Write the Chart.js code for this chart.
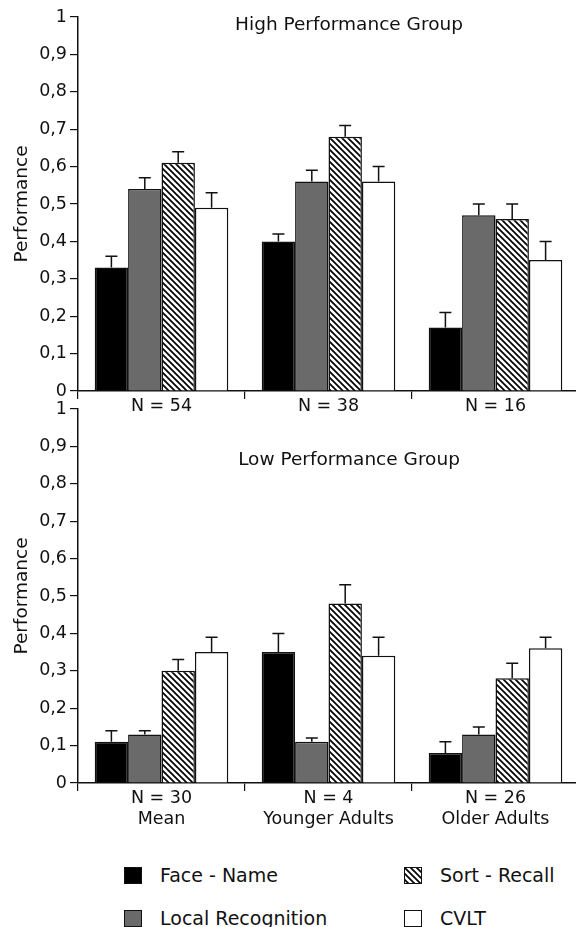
<!DOCTYPE html>
<html>
<head>
<meta charset="utf-8">
<script src="https://cdn.jsdelivr.net/npm/chart.js@4"></script>
<style>
  html, body { margin: 0; padding: 0; background: #fff; overflow: hidden; }
  body { width: 576px; height: 927px; position: relative; font-family: "DejaVu Sans", sans-serif; }
  .panel { position: absolute; left: 0; }
  #topWrap { top: 0; width: 582px; height: 420px; }
  #bottomWrap { top: 380px; width: 582px; height: 460px; }
  .legend-item { position: absolute; display: flex; align-items: center; font-size: 19px; color: #111; }
  .swatch { width: 18px; height: 17px; box-sizing: border-box; border: 1.5px solid #111; margin-right: 18px; }
</style>
</head>
<body>
<div id="topWrap" class="panel"><canvas id="highChart" width="582" height="420"></canvas></div>
<div id="bottomWrap" class="panel"><canvas id="lowChart" width="582" height="460"></canvas></div>

<div class="legend-item" style="left:124px; top:864px;"><span class="swatch" style="background:#000"></span>Face - Name</div>
<div class="legend-item" style="left:124px; top:907px;"><span class="swatch" style="background:#6a6a6a"></span>Local Recognition</div>
<div class="legend-item" style="left:404px; top:864px;"><span class="swatch" id="hatchSwatch"></span>Sort - Recall</div>
<div class="legend-item" style="left:404px; top:907px;"><span class="swatch" style="background:#fff"></span>CVLT</div>

<script>
// ---- data ----
const seriesNames = ['Face - Name', 'Local Recognition', 'Sort - Recall', 'CVLT'];
const highLabels = ['N = 54', 'N = 38', 'N = 16'];
const lowLabels = [['N = 30', 'Mean'], ['N = 4', 'Younger Adults'], ['N = 26', 'Older Adults']];
const yTickLabels = ['0', '0,1', '0,2', '0,3', '0,4', '0,5', '0,6', '0,7', '0,8', '0,9', '1'];

// High Performance Group: means and standard errors
const highFaceName = [0.33, 0.40, 0.17];
const highLocalRec = [0.54, 0.56, 0.47];
const highSortRecall = [0.61, 0.68, 0.46];
const highCVLT = [0.49, 0.56, 0.35];
const highFaceNameErr = [0.03, 0.02, 0.04];
const highLocalRecErr = [0.03, 0.03, 0.03];
const highSortRecallErr = [0.03, 0.03, 0.04];
const highCVLTErr = [0.04, 0.04, 0.05];

// Low Performance Group
const lowFaceName = [0.11, 0.35, 0.08];
const lowLocalRec = [0.13, 0.11, 0.13];
const lowSortRecall = [0.30, 0.48, 0.28];
const lowCVLT = [0.35, 0.34, 0.36];
const lowFaceNameErr = [0.03, 0.05, 0.03];
const lowLocalRecErr = [0.01, 0.01, 0.02];
const lowSortRecallErr = [0.03, 0.05, 0.04];
const lowCVLTErr = [0.04, 0.05, 0.03];

// ---- styling helpers ----
function makeHatch() {
  const s = 6;
  const c = document.createElement('canvas');
  c.width = s; c.height = s;
  const g = c.getContext('2d');
  g.fillStyle = '#fff';
  g.fillRect(0, 0, s, s);
  g.strokeStyle = '#000';
  g.lineWidth = 1.7;
  g.beginPath();
  g.moveTo(-1, -1); g.lineTo(s + 1, s + 1);
  g.moveTo(-1, s - 1); g.lineTo(1, s + 1);
  g.moveTo(s - 1, -1); g.lineTo(s + 1, 1);
  g.stroke();
  return c;
}
const hatchTile = makeHatch();
const hatch = document.createElement('canvas').getContext('2d').createPattern(hatchTile, 'repeat');
document.getElementById('hatchSwatch').style.backgroundImage = 'url(' + hatchTile.toDataURL() + ')';

const fills = ['#000', '#6a6a6a', hatch, '#fff'];
const tickFont = { family: 'DejaVu Sans', size: 17.5 };
const titleFont = { family: 'DejaVu Sans', size: 18.5 };

// error bars drawn above each bar
const errorBarPlugin = {
  id: 'errorBars',
  afterDatasetsDraw(chart) {
    const ctx = chart.ctx;
    const y = chart.scales.y;
    ctx.save();
    ctx.strokeStyle = '#111';
    ctx.lineWidth = 1.5;
    chart.data.datasets.forEach((ds, di) => {
      const meta = chart.getDatasetMeta(di);
      meta.data.forEach((bar, i) => {
        const top = y.getPixelForValue(ds.data[i] + ds.errors[i]);
        ctx.beginPath();
        ctx.moveTo(bar.x, bar.y);
        ctx.lineTo(bar.x, top);
        ctx.moveTo(bar.x - 6, top);
        ctx.lineTo(bar.x + 6, top);
        ctx.stroke();
      });
    });
    ctx.restore();
  }
};

// group title inside the plot area
const panelTitlePlugin = {
  id: 'panelTitle',
  afterDraw(chart, args, opts) {
    const ctx = chart.ctx;
    ctx.save();
    ctx.font = '18.5px "DejaVu Sans"';
    ctx.fillStyle = '#111';
    ctx.textAlign = 'center';
    ctx.textBaseline = 'middle';
    ctx.fillText(opts.text, opts.x, opts.y);
    ctx.restore();
  }
};

function buildChart(id, labels, values, errors, title, titleY, padTop, areaBottom, height) {
  return new Chart(document.getElementById(id), {
    type: 'bar',
    data: {
      labels: labels,
      datasets: seriesNames.map((name, k) => ({
        label: name,
        data: values[k],
        errors: errors[k],
        backgroundColor: fills[k],
        borderColor: '#111',
        borderWidth: 1.5,
        categoryPercentage: 0.8,
        barPercentage: 1.0
      }))
    },
    options: {
      responsive: false,
      animation: false,
      layout: { padding: { top: padTop, right: 3, left: 0, bottom: 0 } },
      plugins: {
        legend: { display: false },
        tooltip: { enabled: false },
        panelTitle: { text: title, x: 349, y: titleY }
      },
      scales: {
        x: {
          grid: { display: true, offset: true, drawOnChartArea: false, drawTicks: true, tickLength: 8, color: '#111', lineWidth: 1.2 },
          border: { display: true, color: '#111', width: 1.5 },
          ticks: { color: '#111', font: tickFont, padding: -3, maxRotation: 0 },
          afterFit(scale) { scale.height = height - areaBottom; }
        },
        y: {
          min: 0,
          max: 1,
          grid: { display: true, drawOnChartArea: false, drawTicks: true, tickLength: 8, color: '#111', lineWidth: 1.2 },
          border: { display: true, color: '#111', width: 1.5 },
          ticks: {
            stepSize: 0.1,
            color: '#111',
            font: tickFont,
            padding: 3,
            callback: (v, i) => yTickLabels[i]
          },
          title: { display: true, text: 'Performance', color: '#111', font: titleFont, padding: { top: 11, bottom: 0 } },
          afterFit(scale) { scale.width = 78; }
        }
      }
    },
    plugins: [errorBarPlugin, panelTitlePlugin]
  });
}

buildChart('highChart', highLabels,
  [highFaceName, highLocalRec, highSortRecall, highCVLT],
  [highFaceNameErr, highLocalRecErr, highSortRecallErr, highCVLTErr],
  'High Performance Group', 25, 17, 391, 420);

buildChart('lowChart', lowLabels,
  [lowFaceName, lowLocalRec, lowSortRecall, lowCVLT],
  [lowFaceNameErr, lowLocalRecErr, lowSortRecallErr, lowCVLTErr],
  'Low Performance Group', 80, 29, 403, 460);
</script>
</body>
</html>
